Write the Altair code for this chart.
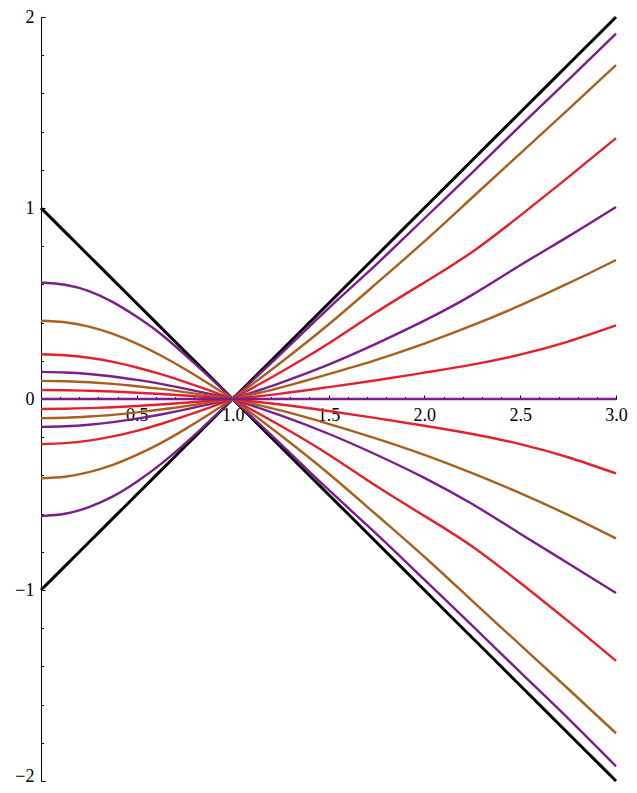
import altair as alt
import pandas as pd

# ---- data ----
x_left = [0.0, 0.125, 0.25, 0.375, 0.5, 0.625, 0.75, 0.875, 1.0]
x_right = [1.0, 1.25, 1.5, 1.75, 2.0, 2.25, 2.5, 2.75, 3.0]

black_upper_left = [1.0, 0.875, 0.75, 0.625, 0.5, 0.375, 0.25, 0.125, 0.0]
black_upper_right = [0.0, 0.25, 0.5, 0.75, 1.0, 1.25, 1.5, 1.75, 2.0]
black_lower_left = [-1.0, -0.875, -0.75, -0.625, -0.5, -0.375, -0.25, -0.125, 0.0]
black_lower_right = [0.0, -0.25, -0.5, -0.75, -1.0, -1.25, -1.5, -1.75, -2.0]

upper_purple_1_left = [0.61, 0.598, 0.565, 0.507, 0.43, 0.34, 0.232, 0.118, 0.0]
upper_purple_1_right = [0.0, 0.235, 0.475, 0.705, 0.945, 1.185, 1.43, 1.67, 1.913]
upper_brown_1_left = [0.41, 0.402, 0.379, 0.341, 0.29, 0.228, 0.157, 0.08, 0.0]
upper_brown_1_right = [0.0, 0.19, 0.39, 0.605, 0.825, 1.055, 1.285, 1.515, 1.748]
upper_red_1_left = [0.234, 0.229, 0.216, 0.194, 0.165, 0.13, 0.09, 0.046, 0.0]
upper_red_1_right = [0.0, 0.14, 0.29, 0.455, 0.61, 0.77, 0.96, 1.16, 1.366]
upper_purple_2_left = [0.142, 0.139, 0.131, 0.118, 0.10, 0.079, 0.054, 0.028, 0.0]
upper_purple_2_right = [0.0, 0.085, 0.18, 0.29, 0.41, 0.545, 0.70, 0.85, 1.005]
upper_brown_2_left = [0.095, 0.093, 0.088, 0.079, 0.067, 0.053, 0.036, 0.018, 0.0]
upper_brown_2_right = [0.0, 0.06, 0.13, 0.205, 0.29, 0.385, 0.49, 0.605, 0.728]
upper_red_2_left = [0.047, 0.046, 0.043, 0.039, 0.033, 0.026, 0.018, 0.009, 0.0]
upper_red_2_right = [0.0, 0.028, 0.062, 0.098, 0.138, 0.18, 0.232, 0.30, 0.385]
zero_purple_left = [0.0, 0.0, 0.0, 0.0, 0.0, 0.0, 0.0, 0.0, 0.0]
zero_purple_right = [0.0, 0.0, 0.0, 0.0, 0.0, 0.0, 0.0, 0.0, 0.0]
lower_red_2_left = [-0.052, -0.051, -0.048, -0.043, -0.037, -0.029, -0.02, -0.01, 0.0]
lower_red_2_right = [0.0, -0.029, -0.063, -0.1, -0.14, -0.183, -0.236, -0.305, -0.39]
lower_brown_2_left = [-0.10, -0.098, -0.092, -0.083, -0.07, -0.055, -0.038, -0.019, 0.0]
lower_brown_2_right = [0.0, -0.06, -0.13, -0.207, -0.292, -0.388, -0.493, -0.607, -0.73]
lower_purple_2_left = [-0.146, -0.143, -0.135, -0.121, -0.103, -0.081, -0.056, -0.028, 0.0]
lower_purple_2_right = [0.0, -0.086, -0.182, -0.292, -0.413, -0.55, -0.705, -0.86, -1.016]
lower_red_1_left = [-0.236, -0.231, -0.218, -0.196, -0.167, -0.131, -0.09, -0.046, 0.0]
lower_red_1_right = [0.0, -0.14, -0.29, -0.456, -0.612, -0.772, -0.962, -1.163, -1.371]
lower_brown_1_left = [-0.415, -0.407, -0.383, -0.345, -0.293, -0.231, -0.159, -0.081, 0.0]
lower_brown_1_right = [0.0, -0.19, -0.39, -0.606, -0.826, -1.057, -1.287, -1.517, -1.75]
lower_purple_1_left = [-0.613, -0.601, -0.566, -0.51, -0.433, -0.341, -0.235, -0.12, 0.0]
lower_purple_1_right = [0.0, -0.235, -0.475, -0.706, -0.946, -1.186, -1.43, -1.672, -1.923]

curves = [
    ("black_upper", "black", black_upper_left, black_upper_right),
    ("black_lower", "black", black_lower_left, black_lower_right),
    ("upper_purple_1", "purple", upper_purple_1_left, upper_purple_1_right),
    ("lower_purple_1", "purple", lower_purple_1_left, lower_purple_1_right),
    ("upper_brown_1", "brown", upper_brown_1_left, upper_brown_1_right),
    ("lower_brown_1", "brown", lower_brown_1_left, lower_brown_1_right),
    ("upper_red_1", "red", upper_red_1_left, upper_red_1_right),
    ("lower_red_1", "red", lower_red_1_left, lower_red_1_right),
    ("upper_purple_2", "purple", upper_purple_2_left, upper_purple_2_right),
    ("lower_purple_2", "purple", lower_purple_2_left, lower_purple_2_right),
    ("upper_brown_2", "brown", upper_brown_2_left, upper_brown_2_right),
    ("lower_brown_2", "brown", lower_brown_2_left, lower_brown_2_right),
    ("upper_red_2", "red", upper_red_2_left, upper_red_2_right),
    ("lower_red_2", "red", lower_red_2_left, lower_red_2_right),
    ("zero_purple", "purple", zero_purple_left, zero_purple_right),
]

y_major = [-2, -1, 0, 1, 2]
y_minor = [-1.8, -1.6, -1.4, -1.2, -0.8, -0.6, -0.4, -0.2,
           0.2, 0.4, 0.6, 0.8, 1.2, 1.4, 1.6, 1.8]
x_major = [0.5, 1.0, 1.5, 2.0, 2.5, 3.0]
x_minor = [0.1, 0.2, 0.3, 0.4, 0.6, 0.7, 0.8, 0.9, 1.1, 1.2, 1.3, 1.4,
           1.6, 1.7, 1.8, 1.9, 2.1, 2.2, 2.3, 2.4, 2.6, 2.7, 2.8, 2.9]

color_domain = ["black", "purple", "brown", "red"]
color_range = ["#000000", "#7a1f8a", "#a8601f", "#e3202e"]

rows = []
for name, grp, ys_l, ys_r in curves:
    w = 3.0 if grp == "black" else 2.4
    for x, y in zip(x_left, ys_l):
        rows.append({"x": x, "y": y, "grp": grp, "seg": f"{name}_L", "w": w})
    for x, y in zip(x_right, ys_r):
        rows.append({"x": x, "y": y, "grp": grp, "seg": f"{name}_R", "w": w})
df = pd.DataFrame(rows)

W, H = 575, 764
sx = alt.Scale(domain=[0, 3], nice=False, zero=False)
sy = alt.Scale(domain=[-2, 2], nice=False, zero=False)
FONT = "Liberation Serif"

lines = alt.Chart(df).mark_line(interpolate="natural").encode(
    x=alt.X("x:Q", scale=sx, axis=None),
    y=alt.Y("y:Q", scale=sy, axis=None),
    color=alt.Color("grp:N", scale=alt.Scale(domain=color_domain, range=color_range), legend=None),
    strokeWidth=alt.StrokeWidth("w:Q", scale=None),
    detail="seg:N",
)

corners = pd.DataFrame({"x": [0.0, 3.0], "y": [-2.0, 2.0]})


def axis_layer(xaxis, yaxis):
    return alt.Chart(corners).mark_point(opacity=0).encode(
        x=alt.X("x:Q", scale=sx, axis=xaxis),
        y=alt.Y("y:Q", scale=sy, axis=yaxis),
    )


y_label_axis = alt.Axis(orient="left", values=y_major, ticks=False, tickSize=0, domain=True,
                        domainColor="black", domainWidth=1, labelFont=FONT, labelFontSize=18,
                        labelColor="black", labelPadding=7, grid=False, title=None, format="d",
                        labelOffset=alt.expr("datum.value == -2 ? -5 : 0"))
y_major_axis = alt.Axis(orient="right", offset=-W, values=y_major, ticks=True, tickSize=4,
                        tickColor="black", tickWidth=1, labels=False, domain=False, grid=False, title=None)
y_minor_axis = alt.Axis(orient="right", offset=-W, values=y_minor, ticks=True, tickSize=2.5,
                        tickColor="black", tickWidth=1, labels=False, domain=False, grid=False, title=None)
x_label_axis = alt.Axis(orient="bottom", offset=-H / 2, values=x_major, ticks=False, tickSize=0,
                        domain=True, domainColor="black", domainWidth=1, labelFont=FONT,
                        labelFontSize=18, labelColor="black", labelPadding=7, grid=False,
                        title=None, format=".1f", labelFlush=False)
x_major_axis = alt.Axis(orient="top", offset=-H / 2, values=x_major, ticks=True, tickSize=4,
                        tickColor="black", tickWidth=1, labels=False, domain=False, grid=False, title=None)
x_minor_axis = alt.Axis(orient="top", offset=-H / 2, values=x_minor, ticks=True, tickSize=2.5,
                        tickColor="black", tickWidth=1, labels=False, domain=False, grid=False, title=None)

chart = alt.layer(
    axis_layer(x_label_axis, y_label_axis),
    axis_layer(x_major_axis, y_major_axis),
    axis_layer(x_minor_axis, y_minor_axis),
    lines,
).resolve_axis(x="independent", y="independent").properties(
    width=W, height=H,
    autosize=alt.AutoSizeParams(type="none"),
    padding={"left": 33, "top": 9, "right": 13, "bottom": 4},
).configure_view(stroke=None)

chart.save("out.html", embed_options={"renderer": "svg", "actions": False})
